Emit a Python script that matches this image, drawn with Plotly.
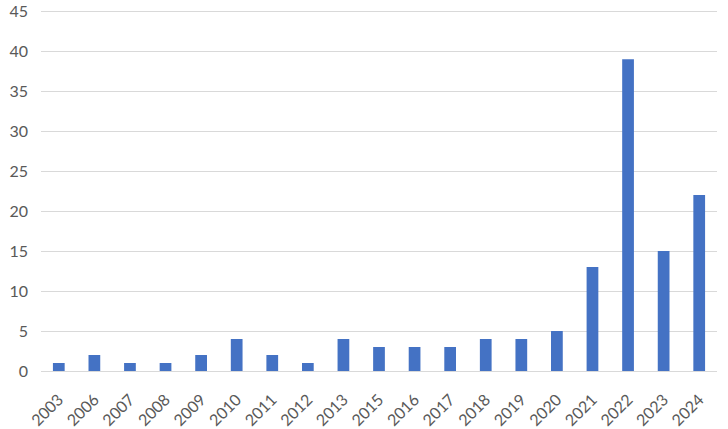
import plotly.graph_objects as go

years = ["2003", "2006", "2007", "2008", "2009", "2010", "2011", "2012", "2013",
         "2015", "2016", "2017", "2018", "2019", "2020", "2021", "2022", "2023", "2024"]
counts = [1, 2, 1, 1, 2, 4, 2, 1, 4, 3, 3, 3, 4, 4, 5, 13, 39, 15, 22]
y_ticks = [0, 5, 10, 15, 20, 25, 30, 35, 40, 45]

fig = go.Figure(go.Bar(x=years, y=counts, marker_color="#4472C4", marker_line_width=0))
fig.update_layout(
    width=728, height=429,
    margin=dict(l=41, r=11, t=10, b=58, autoexpand=False),
    paper_bgcolor="white", plot_bgcolor="white",
    bargap=0.67,
    showlegend=False,
    font=dict(family="Lato, Open Sans, sans-serif", size=16, color="#595959"),
)
fig.update_xaxes(type="category", tickangle=-45, showgrid=False, showline=True,
                 linecolor="#D9D9D9", linewidth=1, ticks="", tickfont=dict(size=16),
                 ticklabelstandoff=12, automargin=False)
fig.update_yaxes(range=[0, 45.15], tickvals=y_ticks, showgrid=True, gridcolor="#D9D9D9",
                 gridwidth=1, zeroline=False, showline=False, ticks="", ticklen=0,
                 tickfont=dict(size=16), ticklabelstandoff=12, automargin=False)
fig.write_html("out.html", config={"displayModeBar": False},
               post_script="document.body.style.margin='0';")
